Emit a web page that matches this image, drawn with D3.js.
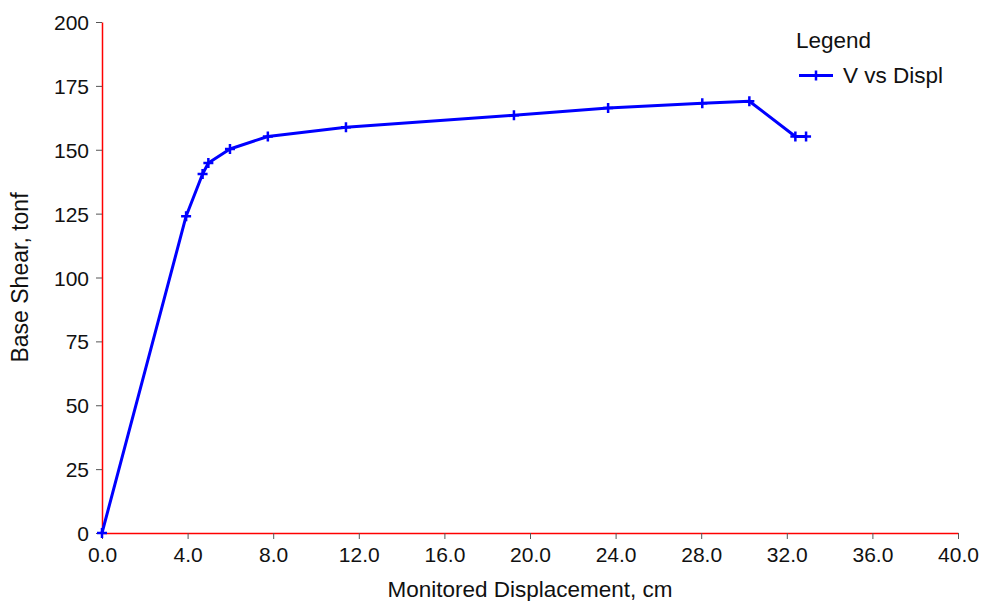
<!DOCTYPE html>
<html>
<head>
<meta charset="utf-8">
<script src="https://cdn.jsdelivr.net/npm/d3@7"></script>
<style>
  body { margin: 0; background: #fff; }
  text { font-family: "Liberation Sans", Arial, sans-serif; fill: #111; }
</style>
</head>
<body>
<script>
const svgWidth = 981;
const svgHeight = 601;

// pushover curve
const displ = [0, 3.93, 4.7, 4.97, 5.98, 7.75, 11.4, 19.25, 23.65, 28.05, 30.25, 32.4, 32.9];
const shear = [0, 124, 140.5, 144.8, 150.3, 155.2, 158.8, 163.5, 166.3, 168.2, 169, 155.2, 155.2];
const xTicks = [0, 4, 8, 12, 16, 20, 24, 28, 32, 36, 40];
const yTicks = [0, 25, 50, 75, 100, 125, 150, 175, 200];
const seriesName = 'V vs Displ';

const tickFont = 21;
const titleFont = 22.5;
const margin = {left: 102, right: 23, top: 22, bottom: 68};

const svg = d3.select('body')
              .append('svg')
              .attr('width', svgWidth)
              .attr('height', svgHeight);

const scaleX = d3.scaleLinear()
                 .domain([0, 40])
                 .range([margin.left, svgWidth - margin.right]);

const scaleY = d3.scaleLinear()
                 .domain([0, 200])
                 .range([svgHeight - margin.bottom, margin.top]);

// x axis
const xAxis = svg.append('g')
                 .attr('transform', `translate(0,${scaleY(0)})`)
                 .call(d3.axisBottom(scaleX).tickValues(xTicks).tickFormat(d3.format('.1f'))
                         .tickSizeInner(6).tickSizeOuter(0).tickPadding(8));
xAxis.selectAll('.tick text').attr('font-size', tickFont).attr('fill', '#111');

// y axis
const yAxis = svg.append('g')
                 .attr('transform', `translate(${scaleX(0)},0)`)
                 .call(d3.axisLeft(scaleY).tickValues(yTicks)
                         .tickSizeInner(6).tickSizeOuter(0).tickPadding(7));
yAxis.selectAll('.tick text').attr('font-size', tickFont).attr('fill', '#111').attr('dy', '0.36em');

svg.selectAll('.tick line').attr('stroke', '#555');
svg.selectAll('.domain').attr('stroke', '#ff0000').attr('stroke-width', 1.5);

// axis titles
svg.append('text')
   .attr('x', (scaleX(0) + scaleX(40)) / 2)
   .attr('y', 597)
   .attr('text-anchor', 'middle')
   .attr('font-size', titleFont)
   .text('Monitored Displacement, cm');

svg.append('text')
   .attr('transform', `translate(28,${(scaleY(0) + scaleY(200)) / 2}) rotate(-90)`)
   .attr('text-anchor', 'middle')
   .attr('font-size', 23)
   .text('Base Shear, tonf');

// curve
const points = displ.map((d, i) => ({x: d, y: shear[i]}));

const line = d3.line()
               .x(d => scaleX(d.x))
               .y(d => scaleY(d.y));

svg.append('path')
   .datum(points)
   .attr('d', line)
   .attr('fill', 'none')
   .attr('stroke', '#0000ff')
   .attr('stroke-width', 3)
   .attr('stroke-linejoin', 'round');

function drawPlus(g, cx, cy, r) {
  g.append('path')
   .attr('d', `M${cx - r},${cy}H${cx + r}M${cx},${cy - r}V${cy + r}`)
   .attr('stroke', '#0000ff')
   .attr('stroke-width', 2.5)
   .attr('fill', 'none');
}

const markers = svg.append('g');
points.forEach(p => drawPlus(markers, scaleX(p.x), scaleY(p.y), 5));

// legend
const legend = svg.append('g');
legend.append('text')
      .attr('x', 796)
      .attr('y', 48)
      .attr('font-size', titleFont)
      .text('Legend');
legend.append('line')
      .attr('x1', 799).attr('x2', 833)
      .attr('y1', 75.5).attr('y2', 75.5)
      .attr('stroke', '#0000ff')
      .attr('stroke-width', 3);
drawPlus(legend, 816, 75.5, 5);
legend.append('text')
      .attr('x', 843)
      .attr('y', 83)
      .attr('font-size', titleFont)
      .text(seriesName);
</script>
</body>
</html>
